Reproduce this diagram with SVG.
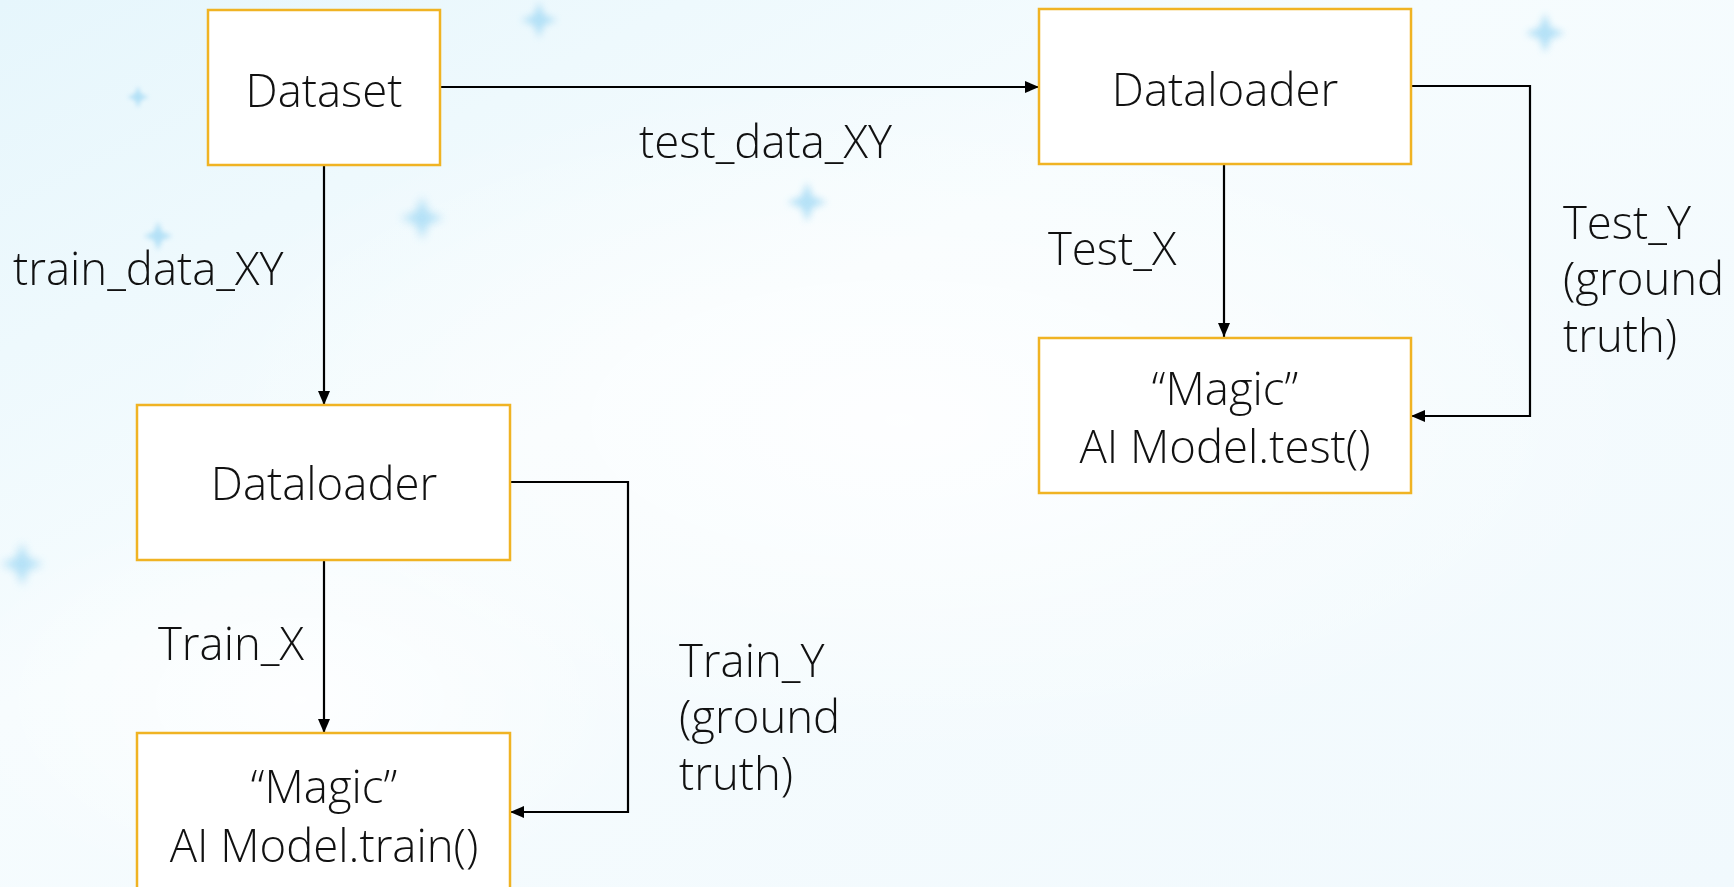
<svg xmlns="http://www.w3.org/2000/svg" width="1734" height="887" viewBox="0 0 1734 887">
  <style>
    .box { fill: #ffffff; stroke: #f0b323; stroke-width: 2.5; }
    .lbl { font-family: "Open Sans", "Noto Sans", "Liberation Sans", sans-serif; font-weight: 300; font-size: 45.5px; fill: #111111; }
    .mid { text-anchor: middle; }
    .wire { fill: none; stroke: #000000; stroke-width: 2.2; }
    .star { fill: #a8dcf5; filter: url(#soft); }
  </style>
  <defs>
    <linearGradient id="sky" x1="0" y1="0" x2="1" y2="1">
      <stop offset="0" stop-color="#e6f6fc"/>
      <stop offset="0.4" stop-color="#f6fcfe"/>
      <stop offset="1" stop-color="#f1f9fd"/>
    </linearGradient>
    <radialGradient id="haze" cx="0.5" cy="0.5" r="0.5">
      <stop offset="0" stop-color="#ffffff" stop-opacity="0.85"/>
      <stop offset="1" stop-color="#ffffff" stop-opacity="0"/>
    </radialGradient>
    <filter id="soft" x="-50%" y="-50%" width="200%" height="200%">
      <feGaussianBlur stdDeviation="3.5"/>
    </filter>
    <path id="flake" d="M0,-18 L5,-5 L18,0 L5,5 L0,18 L-5,5 L-18,0 L-5,-5 Z"/>
    <marker id="arrow" viewBox="0 0 14 12" refX="14" refY="6" markerWidth="14" markerHeight="12" markerUnits="userSpaceOnUse" orient="auto">
      <path d="M0,0 L14,6 L0,12 Z" fill="#000000"/>
    </marker>
  </defs>

  <!-- backdrop -->
  <rect x="0" y="0" width="1734" height="887" fill="url(#sky)"/>
  <ellipse cx="900" cy="420" rx="750" ry="340" fill="url(#haze)"/>
  <ellipse cx="300" cy="700" rx="350" ry="200" fill="url(#haze)"/>
  <g opacity="0.85">
    <use href="#flake" class="star" transform="translate(539,20)"/>
    <use href="#flake" class="star" transform="translate(138,97) scale(0.6)"/>
    <use href="#flake" class="star" transform="translate(422,218) scale(1.2)"/>
    <use href="#flake" class="star" transform="translate(158,236) scale(0.8)"/>
    <use href="#flake" class="star" transform="translate(807,202) scale(1.1)"/>
    <use href="#flake" class="star" transform="translate(1545,33) scale(1.1)"/>
    <use href="#flake" class="star" transform="translate(22,564) scale(1.2)"/>
  </g>

  <!-- connectors -->
  <g id="connectors">
    <line class="wire" x1="440" y1="87" x2="1039" y2="87" marker-end="url(#arrow)"/>
    <line class="wire" x1="324" y1="165" x2="324" y2="405" marker-end="url(#arrow)"/>
    <line class="wire" x1="324" y1="560" x2="324" y2="733" marker-end="url(#arrow)"/>
    <polyline class="wire" points="510,482 628,482 628,812 510,812" marker-end="url(#arrow)"/>
    <line class="wire" x1="1224" y1="164" x2="1224" y2="337" marker-end="url(#arrow)"/>
    <polyline class="wire" points="1411,86 1530,86 1530,416 1411,416" marker-end="url(#arrow)"/>
  </g>

  <!-- edge labels -->
  <g id="labels">
    <text class="lbl" x="639" y="158">test_data_XY</text>
    <text class="lbl" x="13" y="285">train_data_XY</text>
    <text class="lbl" x="158" y="660">Train_X</text>
    <text class="lbl" x="679" y="677">Train_Y</text>
    <text class="lbl" x="679" y="733">(ground</text>
    <text class="lbl" x="679" y="790">truth)</text>
    <text class="lbl" x="1048" y="265">Test_X</text>
    <text class="lbl" x="1563" y="239">Test_Y</text>
    <text class="lbl" x="1563" y="295">(ground</text>
    <text class="lbl" x="1563" y="352">truth)</text>
  </g>

  <!-- nodes -->
  <g id="dataset">
    <rect class="box" x="208" y="10" width="232" height="155"/>
    <text class="lbl mid" x="324" y="107">Dataset</text>
  </g>
  <g id="train-loader">
    <rect class="box" x="137" y="405" width="373" height="155"/>
    <text class="lbl mid" x="324" y="500">Dataloader</text>
  </g>
  <g id="train-model">
    <rect class="box" x="137" y="733" width="373" height="170"/>
    <text class="lbl mid" x="324" y="803">“Magic”</text>
    <text class="lbl mid" x="324" y="862">AI Model.train()</text>
  </g>
  <g id="test-loader">
    <rect class="box" x="1039" y="9" width="372" height="155"/>
    <text class="lbl mid" x="1225" y="106">Dataloader</text>
  </g>
  <g id="test-model">
    <rect class="box" x="1039" y="338" width="372" height="155"/>
    <text class="lbl mid" x="1225" y="405">“Magic”</text>
    <text class="lbl mid" x="1225" y="463">AI Model.test()</text>
  </g>
</svg>
